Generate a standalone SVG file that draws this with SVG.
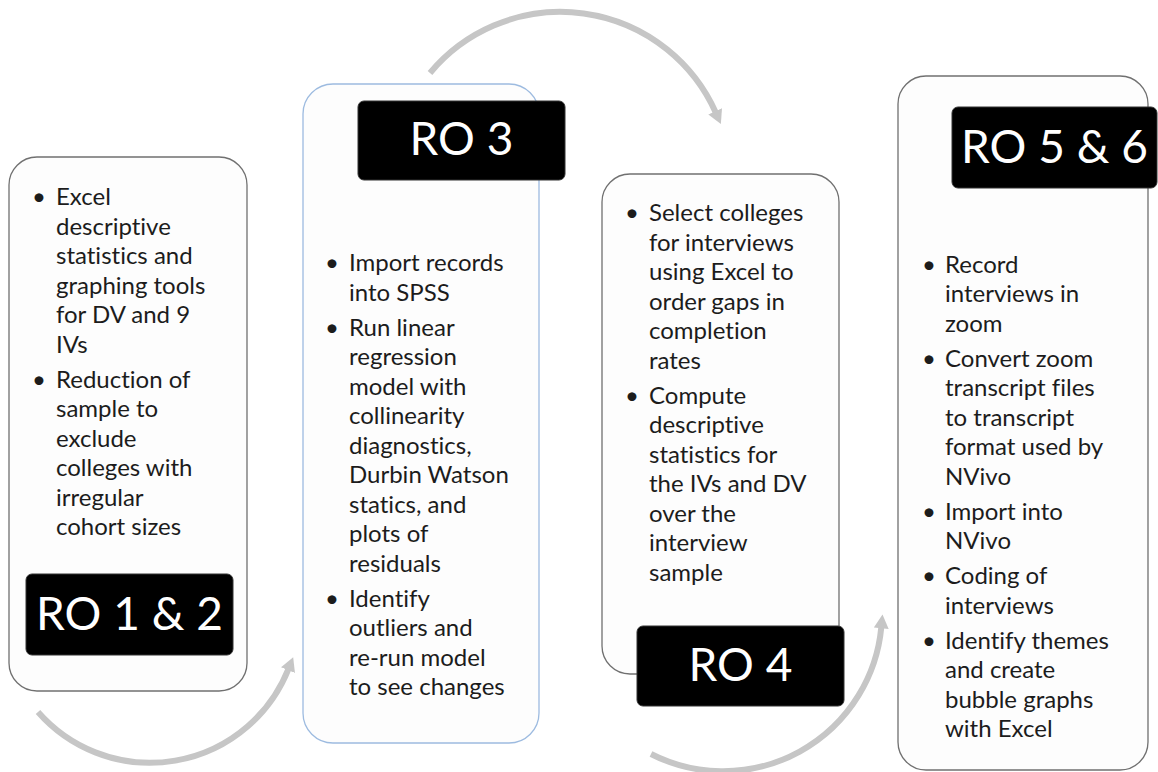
<svg xmlns="http://www.w3.org/2000/svg" width="1158" height="772" viewBox="0 0 1158 772">
  <style>
    text { font-variant-ligatures: none; font-feature-settings: "liga" 0, "dlig" 0; }
    .card { fill: #fdfdfd; stroke: #707070; stroke-width: 1.3; }
    .card.blue { stroke: #9dbbe0; }
    .tag { fill: #000; stroke: #333; stroke-width: 1; }
    .tagtext { font-family: Lato, "Open Sans", sans-serif; font-size: 46px; fill: #fff; text-anchor: middle; }
    .body { font-family: Lato, "Open Sans", sans-serif; font-size: 24px; fill: #1c1c1c; }
    .dot { font-family: Lato, "Open Sans", sans-serif; font-size: 24px; fill: #1c1c1c; text-anchor: middle; }
    .flow { fill: none; stroke: #c6c6c6; stroke-width: 6; marker-end: url(#head); }
  </style>
  <defs>
    <marker id="head" markerUnits="userSpaceOnUse" markerWidth="14" markerHeight="15" viewBox="0 0 13 14" refX="1" refY="7" orient="auto">
      <path d="M0,0 L13,7 L0,14 Z" fill="#c6c6c6"/>
    </marker>
  </defs>

  <rect width="1158" height="772" fill="#fff"/>

  <!-- curved arrows between the stages -->
  <g id="connectors">
    <path class="flow" d="M 38 712 A 149 149 0 0 0 288.4 669.1"/>
    <path class="flow" d="M 430 73 A 170 170 0 0 1 715.6 112.3"/>
    <path class="flow" d="M 651 754 A 159 159 0 0 0 881.3 627.2"/>
  </g>

  <!-- RO 1 & 2 -->
  <g id="ro12">
    <rect class="card" x="9" y="157" width="238" height="534" rx="28"/>
    <text class="dot" x="39" y="205">•</text>
    <text class="dot" x="39" y="387.5">•</text>
    <text class="body">
      <tspan x="56" y="205">Excel</tspan>
      <tspan x="56" y="234.5">descriptive</tspan>
      <tspan x="56" y="264">statistics and</tspan>
      <tspan x="56" y="293.5">graphing tools</tspan>
      <tspan x="56" y="323">for DV and 9</tspan>
      <tspan x="56" y="352.5">IVs</tspan>
      <tspan x="56" y="387.5">Reduction of</tspan>
      <tspan x="56" y="417">sample to</tspan>
      <tspan x="56" y="446.5">exclude</tspan>
      <tspan x="56" y="476">colleges with</tspan>
      <tspan x="56" y="505.5">irregular</tspan>
      <tspan x="56" y="535">cohort sizes</tspan>
    </text>
    <rect class="tag" x="26" y="574" width="207" height="81" rx="6"/>
    <text class="tagtext" x="129.5" y="630">RO 1 &amp; 2</text>
  </g>

  <!-- RO 3 -->
  <g id="ro3">
    <rect class="card blue" x="303" y="84" width="236" height="659" rx="30"/>
    <text class="dot" x="332" y="271">•</text>
    <text class="dot" x="332" y="335.5">•</text>
    <text class="dot" x="332" y="606.5">•</text>
    <text class="body">
      <tspan x="349" y="271">Import records</tspan>
      <tspan x="349" y="300.5">into SPSS</tspan>
      <tspan x="349" y="335.5">Run linear</tspan>
      <tspan x="349" y="365">regression</tspan>
      <tspan x="349" y="394.5">model with</tspan>
      <tspan x="349" y="424">collinearity</tspan>
      <tspan x="349" y="453.5">diagnostics,</tspan>
      <tspan x="349" y="483">Durbin Watson</tspan>
      <tspan x="349" y="512.5">statics, and</tspan>
      <tspan x="349" y="542">plots of</tspan>
      <tspan x="349" y="571.5">residuals</tspan>
      <tspan x="349" y="606.5">Identify</tspan>
      <tspan x="349" y="636">outliers and</tspan>
      <tspan x="349" y="665.5">re-run model</tspan>
      <tspan x="349" y="695">to see changes</tspan>
    </text>
    <rect class="tag" x="358" y="101" width="207" height="79" rx="6"/>
    <text class="tagtext" x="461.5" y="155">RO 3</text>
  </g>

  <!-- RO 4 -->
  <g id="ro4">
    <rect class="card" x="602" y="174" width="237" height="500" rx="28"/>
    <text class="dot" x="632" y="221">•</text>
    <text class="dot" x="632" y="403.5">•</text>
    <text class="body">
      <tspan x="649" y="221">Select colleges</tspan>
      <tspan x="649" y="250.5">for interviews</tspan>
      <tspan x="649" y="280">using Excel to</tspan>
      <tspan x="649" y="309.5">order gaps in</tspan>
      <tspan x="649" y="339">completion</tspan>
      <tspan x="649" y="368.5">rates</tspan>
      <tspan x="649" y="403.5">Compute</tspan>
      <tspan x="649" y="433">descriptive</tspan>
      <tspan x="649" y="462.5">statistics for</tspan>
      <tspan x="649" y="492">the IVs and DV</tspan>
      <tspan x="649" y="521.5">over the</tspan>
      <tspan x="649" y="551">interview</tspan>
      <tspan x="649" y="580.5">sample</tspan>
    </text>
    <rect class="tag" x="637" y="626" width="207" height="80" rx="6"/>
    <text class="tagtext" x="740.5" y="681">RO 4</text>
  </g>

  <!-- RO 5 & 6 -->
  <g id="ro56">
    <rect class="card" x="898" y="76" width="250" height="694" rx="28"/>
    <text class="dot" x="929" y="272.5">•</text>
    <text class="dot" x="929" y="366.5">•</text>
    <text class="dot" x="929" y="519.5">•</text>
    <text class="dot" x="929" y="584">•</text>
    <text class="dot" x="929" y="648.5">•</text>
    <text class="body">
      <tspan x="945" y="272.5">Record</tspan>
      <tspan x="945" y="302">interviews in</tspan>
      <tspan x="945" y="331.5">zoom</tspan>
      <tspan x="945" y="366.5">Convert zoom</tspan>
      <tspan x="945" y="396">transcript files</tspan>
      <tspan x="945" y="425.5">to transcript</tspan>
      <tspan x="945" y="455">format used by</tspan>
      <tspan x="945" y="484.5">NVivo</tspan>
      <tspan x="945" y="519.5">Import into</tspan>
      <tspan x="945" y="549">NVivo</tspan>
      <tspan x="945" y="584">Coding of</tspan>
      <tspan x="945" y="613.5">interviews</tspan>
      <tspan x="945" y="648.5">Identify themes</tspan>
      <tspan x="945" y="678">and create</tspan>
      <tspan x="945" y="707.5">bubble graphs</tspan>
      <tspan x="945" y="737">with Excel</tspan>
    </text>
    <rect class="tag" x="952" y="107" width="205" height="81" rx="6"/>
    <text class="tagtext" x="1054.5" y="163">RO 5 &amp; 6</text>
  </g>
</svg>
